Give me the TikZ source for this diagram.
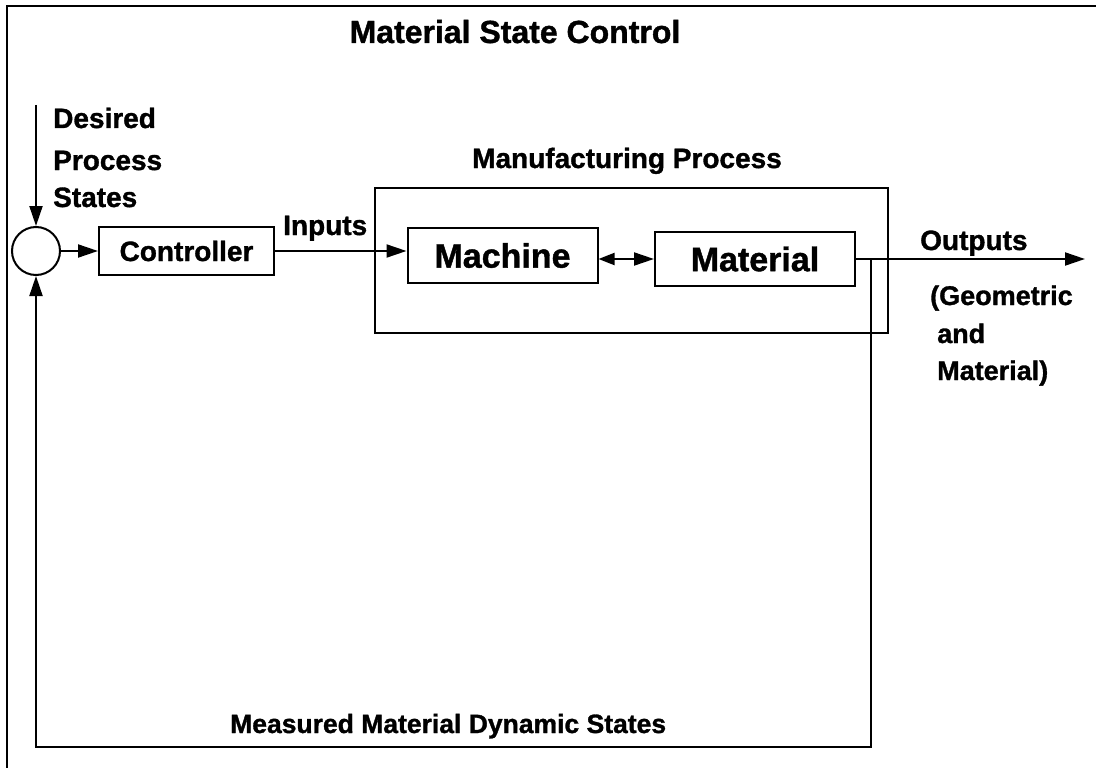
\documentclass[tikz,border=0pt]{standalone}
\usepackage{fontspec}
\setmainfont{Liberation Sans}[BoldFeatures={FakeBold=1.2}]
\usetikzlibrary{arrows.meta}
\begin{document}
\begin{tikzpicture}[x=1pt,y=-1pt,
  box/.style={draw,line width=2pt,rectangle,inner sep=0pt},
  lbl/.style={inner sep=0pt,font=\fontsize{28}{28}\selectfont\bfseries},
  big/.style={inner sep=0pt,font=\fontsize{34}{34}\selectfont\bfseries},
  arr/.style={-{Triangle[length=20pt,width=13pt]},line width=2pt},
  line/.style={line width=2pt}]
\useasboundingbox (0,0) rectangle (1096,768);
% outer frame
\coordinate (fa) at (7,768);
\coordinate (fb) at (7,6);
\coordinate (fc) at (1096,6);
\draw[line] (fa) -- (fb) -- (fc);
% title
\node[inner sep=0pt,font=\fontsize{32}{32}\selectfont\bfseries,anchor=base] (title) at (515,43) {Material State Control};
% summing junction
\node[draw,circle,line width=2pt,minimum size=48pt,inner sep=0pt] (sum) at (36,251) {};
% controller
\node[box,lbl,minimum width=175pt,minimum height=48pt] (ctrl) at (186.5,251) {Controller};
% manufacturing process box
\node[box,minimum width=513pt,minimum height=145pt] (mfg) at (631.5,260.5) {};
\node[lbl,anchor=base] (mfglbl) at (627,168) {Manufacturing Process};
% machine and material
\node[box,big,minimum width=190pt,minimum height=55pt] (mach) at (502.5,255.5) {Machine};
\node[box,big,minimum width=200pt,minimum height=54pt] (mat) at (755,259) {Material};
% labels
\node[lbl,anchor=base west] (des1) at (53,128) {Desired};
\node[lbl,anchor=base west] (des2) at (53,170) {Process};
\node[lbl,anchor=base west] (des3) at (53,207) {States};
\node[lbl,anchor=base west] (inp) at (283,235) {Inputs};
\node[lbl,anchor=base west] (outp) at (920,250) {Outputs};
\node[inner sep=0pt,font=\fontsize{27}{27}\selectfont\bfseries,anchor=base west] (geo1) at (930,305) {(Geometric};
\node[inner sep=0pt,font=\fontsize{27}{27}\selectfont\bfseries,anchor=base west] (geo2) at (937,343) {and};
\node[inner sep=0pt,font=\fontsize{27}{27}\selectfont\bfseries,anchor=base west] (geo3) at (937,380) {Material)};
\node[inner sep=0pt,font=\fontsize{26.5}{26.5}\selectfont\bfseries,anchor=base west] (meas) at (230,733) {Measured Material Dynamic States};
% connectors
\coordinate (dtop) at (36,105);
\coordinate (out) at (1085,259);
\coordinate (fbr) at (871,747);
\draw[arr] (dtop) -- (sum.north);
\draw[arr] (sum.east) -- (ctrl.west);
\draw[arr] (ctrl.east) -- (ctrl.east -| mach.west);
\draw[line,{Triangle[length=16pt,width=12pt]}-{Triangle[length=20pt,width=13pt]}] (mach.east |- mat.west) -- (mat.west);
\draw[arr] (mat.east) -- (out);
\draw[arr] (mat.east -| fbr) -- (fbr) -- (fbr -| sum.south) -- (sum.south);
\end{tikzpicture}
\end{document}
